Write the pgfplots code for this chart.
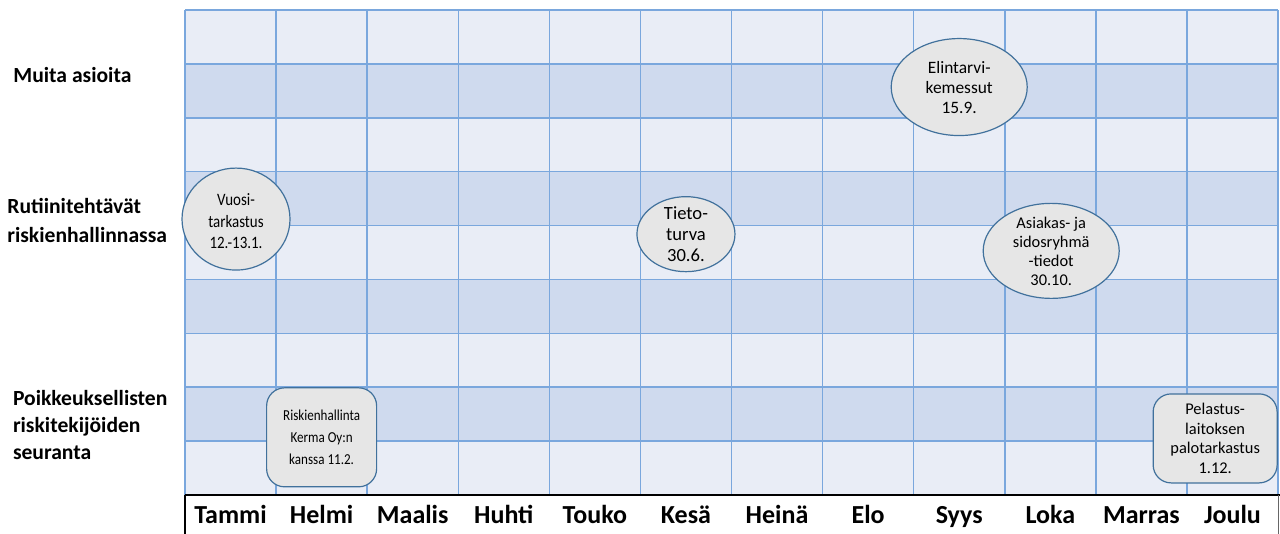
\documentclass[border=0pt]{standalone}
\usepackage{fontspec}
\setmainfont{Carlito}
\newfontfamily\condfont[FakeStretch=0.86]{Carlito}
\usepackage{pgfplots}
\pgfplotsset{compat=1.18}
\usetikzlibrary{shapes.geometric}
\definecolor{rowlight}{HTML}{E9EDF6}
\definecolor{rowdark}{HTML}{CFDAEE}
\definecolor{gridblue}{HTML}{7AA7DD}
\definecolor{evfill}{HTML}{E6E6E6}
\definecolor{evborder}{HTML}{41719C}
\begin{document}
\begin{tikzpicture}[x=1pt,y=1pt]
\useasboundingbox (0,0) rectangle (640,267);
\begin{axis}[
  at={(92.5pt,19.5pt)}, anchor=south west,
  width=546.5pt, height=242.5pt, scale only axis,
  xmin=0, xmax=12, ymin=0, ymax=9,
  axis line style={draw=none},
  xtick={0.5,1.5,...,11.5},
  xticklabels={Tammi,Helmi,Maalis,Huhti,Touko,Kesä,Heinä,Elo,Syys,Loka,Marras,Joulu},
  xticklabel style={font=\bfseries\fontsize{13}{15}\selectfont, anchor=base, yshift=-14.5pt},
  ytick={0,1,...,9}, yticklabels={},
  ymajorgrids,
  major grid style={gridblue, line width=0.75pt},
  major tick length=0pt, minor tick length=0pt,
  minor xtick={0,1,...,12},
  xminorgrids,
  minor grid style={gridblue, line width=0.75pt},
  axis background/.style={fill=rowlight},
  axis on top=true,
  clip=false,
]
\addplot[fill=rowdark, draw=none, mark=none] coordinates {(0,1) (12,1) (12,2) (0,2)} -- cycle;
\addplot[fill=rowdark, draw=none, mark=none] coordinates {(0,3) (12,3) (12,4) (0,4)} -- cycle;
\addplot[fill=rowdark, draw=none, mark=none] coordinates {(0,5) (12,5) (12,6) (0,6)} -- cycle;
\addplot[fill=rowdark, draw=none, mark=none] coordinates {(0,7) (12,7) (12,8) (0,8)} -- cycle;
\coordinate (vuosi) at (axis cs:0.56,5.12);
\coordinate (tieto) at (axis cs:5.50,4.84);
\coordinate (elin) at (axis cs:8.50,7.57);
\coordinate (asiak) at (axis cs:9.51,4.53);
\coordinate (riski) at (axis cs:1.50,1.07);
\coordinate (pelas) at (axis cs:11.31,1.05);
\end{axis}
% month strip borders
\draw[black, line width=1pt] (92.5,19.5) -- (640,19.5);
\draw[black, line width=0.6pt] (92.5,0) -- (92.5,19.5);
\draw[black!60, line width=0.5pt] (639,0) -- (639,19.5);
% row labels
\node[anchor=west, align=left, inner sep=0pt, font=\bfseries\fontsize{10.8}{13.5}\selectfont] at (6.5,229.5) {Muita asioita};
\node[anchor=west, align=left, inner sep=0pt, font=\bfseries\fontsize{10.8}{14.5}\selectfont] at (3.5,156.75) {Rutiinitehtävät\\riskienhallinnassa};
\node[anchor=west, align=left, inner sep=0pt, font=\bfseries\fontsize{10.8}{13.5}\selectfont] at (6.3,54.5) {Poikkeuksellisten\\riskitekijöiden\\seuranta};
% events
\tikzset{ev/.style={draw=evborder, fill=evfill, line width=0.6pt, inner sep=0pt}}
\node[ev, ellipse, minimum width=54pt, minimum height=51pt] at (vuosi) {};
\node[align=center, font=\condfont\fontsize{8.7}{10.8}\selectfont] at ([yshift=-1pt]vuosi) {Vuosi-\\tarkastus\\12.-13.1.};
\node[ev, ellipse, minimum width=49pt, minimum height=37.5pt] at (tieto) {};
\node[align=center, font=\fontsize{9.3}{10.5}\selectfont] at (tieto) {Tieto-\\turva\\30.6.};
\node[ev, ellipse, minimum width=68pt, minimum height=48.5pt] at (elin) {};
\node[align=center, font=\fontsize{8.7}{10}\selectfont] at (elin) {Elintarvi-\\kemessut\\15.9.};
\node[ev, ellipse, minimum width=68pt, minimum height=47.5pt] at (asiak) {};
\node[align=center, font=\fontsize{8.2}{9.5}\selectfont] at (asiak) {Asiakas- ja\\sidosryhmä\\-tiedot\\30.10.};
\node[ev, rectangle, rounded corners=9pt, minimum width=55pt, minimum height=49.5pt] at (riski) {};
\node[align=center, font=\condfont\fontsize{7.6}{11.2}\selectfont] at (riski) {Riskienhallinta\\Kerma Oy:n\\kanssa 11.2.};
\node[ev, rectangle, rounded corners=9pt, minimum width=62pt, minimum height=44.5pt] at (pelas) {};
\node[align=center, font=\fontsize{8.2}{9.8}\selectfont] at (pelas) {Pelastus-\\laitoksen\\palotarkastus\\1.12.};
\end{tikzpicture}
\end{document}
